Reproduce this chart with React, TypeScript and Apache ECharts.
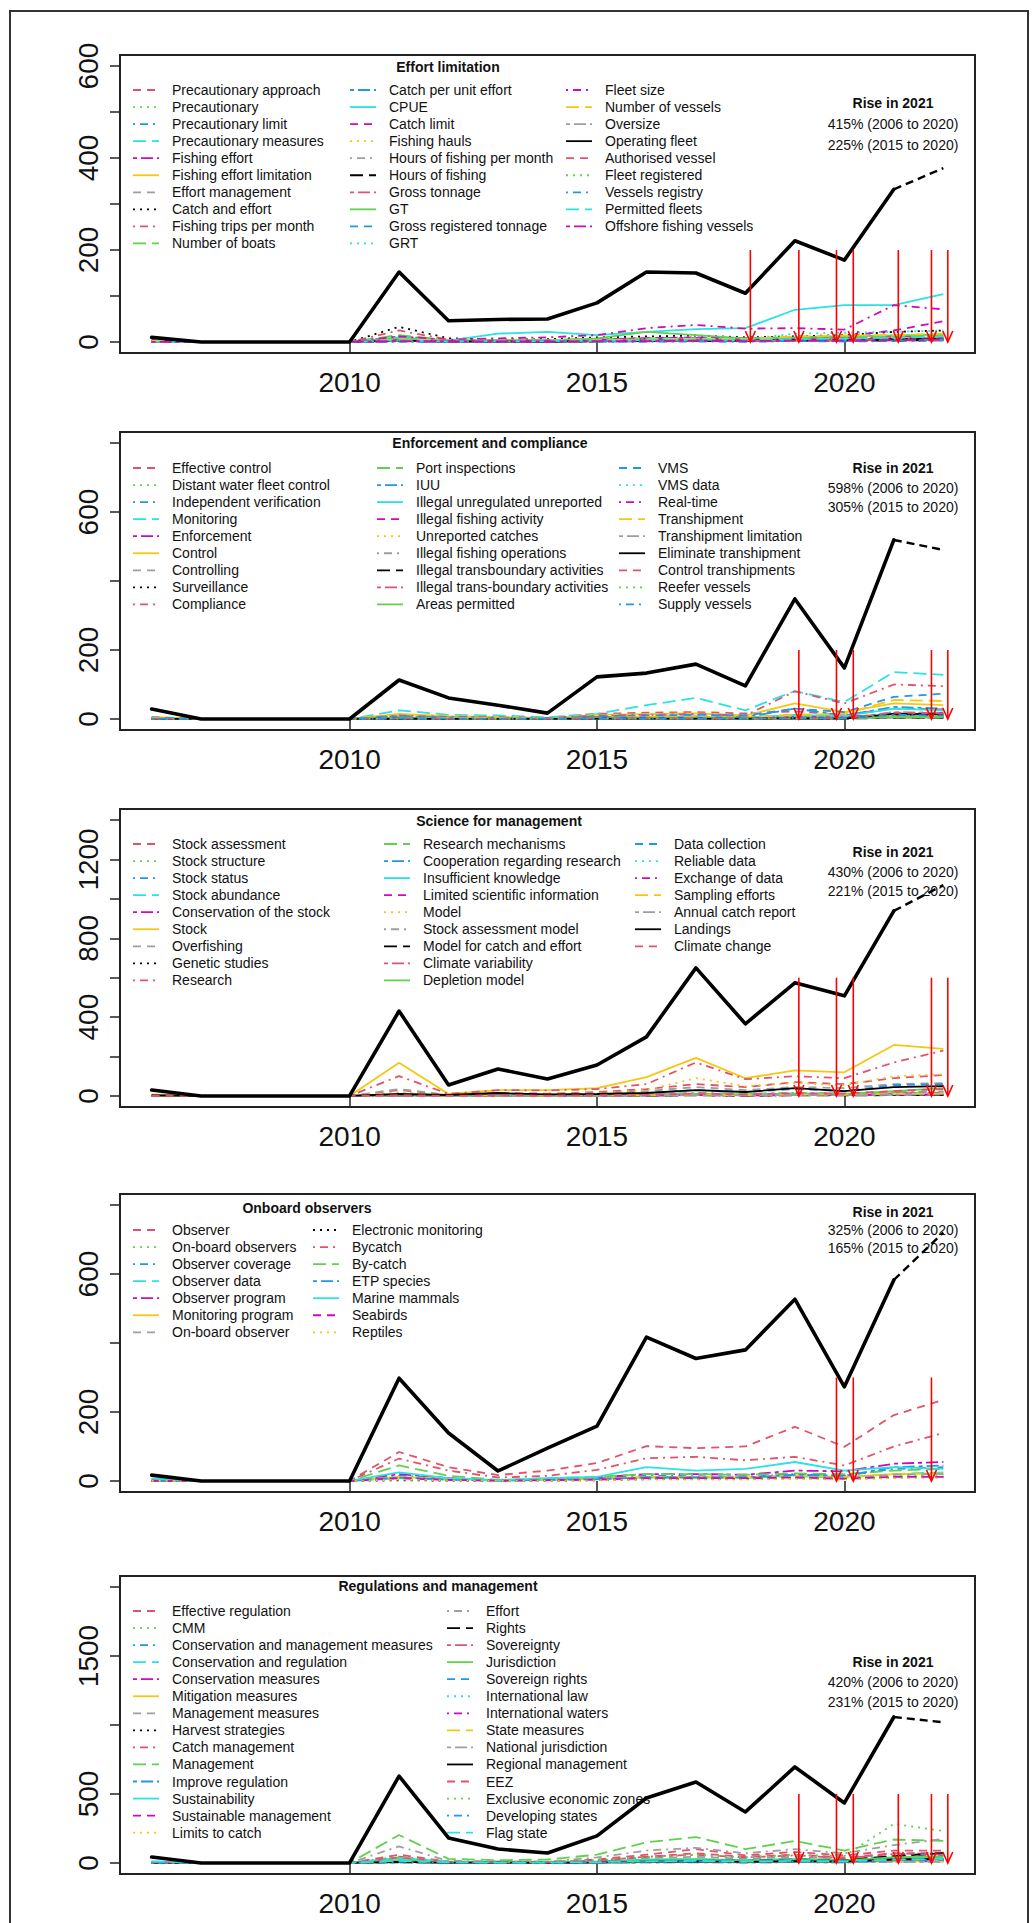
import React, { useEffect, useRef } from 'react';
import * as echarts from 'echarts';

// ---------------- DATA ----------------
const years = [2006, 2007, 2008, 2009, 2010, 2011, 2012, 2013, 2014, 2015, 2016, 2017, 2018, 2019, 2020, 2021, 2022];
const xTickYears = [2010, 2015, 2020];

// R palette (col 2..8,1 cycling) and lty (2..6,1 cycling)
const rPalette = ['#000000', '#DF536B', '#61D04F', '#2297E6', '#28E2E5', '#CD0BBC', '#F5C710', '#9E9E9E'];
const rDash: (number[] | null)[] = [null, [8, 6], [2, 5], [2, 5, 8, 5], [13, 6], [4, 4, 12, 4]];

// Panel 1: Effort limitation
const effortTitle = 'Effort limitation';
const effortNames = [
  'Precautionary approach', 'Precautionary', 'Precautionary limit', 'Precautionary measures', 'Fishing effort',
  'Fishing effort limitation', 'Effort management', 'Catch and effort', 'Fishing trips per month', 'Number of boats',
  'Catch per unit effort', 'CPUE', 'Catch limit', 'Fishing hauls', 'Hours of fishing per month',
  'Hours of fishing', 'Gross tonnage', 'GT', 'Gross registered tonnage', 'GRT',
  'Fleet size', 'Number of vessels', 'Oversize', 'Operating fleet', 'Authorised vessel',
  'Fleet registered', 'Vessels registry', 'Permitted fleets', 'Offshore fishing vessels',
];
const effortValues = [
  [0, 0, 0, 0, 0, 4, 1, 1, 2, 2, 3, 4, 3, 4, 5, 6, 8],
  [0, 0, 0, 0, 0, 6, 2, 1, 1, 2, 3, 3, 2, 3, 4, 5, 6],
  [0, 0, 0, 0, 0, 1, 0, 0, 0, 1, 1, 1, 1, 2, 1, 2, 3],
  [0, 0, 0, 0, 0, 5, 2, 2, 3, 3, 4, 5, 4, 5, 6, 7, 9],
  [4, 0, 0, 0, 0, 12, 4, 3, 4, 6, 8, 9, 7, 8, 9, 12, 14],
  [0, 0, 0, 0, 0, 3, 1, 1, 1, 2, 2, 3, 2, 3, 3, 4, 5],
  [0, 0, 0, 0, 0, 4, 1, 2, 2, 3, 4, 5, 4, 5, 6, 8, 10],
  [3, 0, 0, 0, 0, 33, 8, 5, 6, 10, 12, 14, 10, 12, 15, 22, 25],
  [0, 0, 0, 0, 0, 25, 5, 3, 3, 4, 6, 7, 5, 6, 7, 9, 10],
  [0, 0, 0, 0, 0, 15, 4, 3, 4, 6, 8, 8, 6, 8, 9, 12, 14],
  [0, 0, 0, 0, 0, 2, 1, 1, 1, 2, 2, 3, 2, 3, 3, 4, 4],
  [0, 0, 0, 0, 0, 10, 3, 18, 22, 15, 22, 28, 30, 70, 80, 80, 104],
  [0, 0, 0, 0, 0, 5, 2, 3, 4, 5, 8, 10, 8, 10, 12, 25, 45],
  [0, 0, 0, 0, 0, 3, 1, 1, 2, 2, 3, 4, 3, 5, 6, 8, 10],
  [0, 0, 0, 0, 0, 2, 1, 1, 1, 2, 2, 2, 2, 3, 3, 4, 5],
  [0, 0, 0, 0, 0, 2, 1, 1, 1, 1, 2, 2, 2, 2, 3, 3, 4],
  [0, 0, 0, 0, 0, 4, 2, 2, 2, 3, 4, 5, 4, 5, 6, 7, 8],
  [0, 0, 0, 0, 0, 8, 3, 4, 4, 8, 22, 15, 8, 10, 12, 14, 16],
  [0, 0, 0, 0, 0, 3, 1, 1, 2, 2, 3, 3, 3, 4, 4, 5, 6],
  [0, 0, 0, 0, 0, 5, 2, 2, 3, 4, 6, 8, 6, 18, 20, 22, 25],
  [0, 0, 0, 0, 0, 12, 5, 8, 10, 15, 30, 37, 29, 30, 27, 80, 71],
  [3, 0, 0, 0, 0, 6, 3, 3, 3, 4, 6, 7, 6, 12, 14, 15, 18],
  [0, 0, 0, 0, 0, 1, 0, 1, 1, 1, 1, 2, 1, 2, 2, 3, 3],
  [0, 0, 0, 0, 0, 3, 1, 1, 1, 2, 3, 3, 3, 4, 4, 6, 7],
  [0, 0, 0, 0, 0, 2, 1, 1, 1, 2, 2, 3, 2, 3, 4, 5, 6],
  [0, 0, 0, 0, 0, 3, 1, 1, 2, 2, 3, 4, 3, 4, 5, 8, 12],
  [0, 0, 0, 0, 0, 1, 0, 0, 1, 1, 1, 2, 1, 2, 2, 3, 4],
  [0, 0, 0, 0, 0, 4, 1, 2, 2, 3, 4, 5, 4, 6, 7, 9, 12],
  [0, 0, 0, 0, 0, 2, 1, 1, 1, 2, 2, 3, 2, 3, 3, 4, 5],
];
const effortTotal = [10, 0, 0, 0, 0, 152, 46, 49, 50, 85, 152, 150, 106, 220, 178, 332, 378];
const effortArrows = [2018.1, 2019.08, 2019.84, 2020.18, 2021.09, 2021.76, 2022.09];
const effortArrowTop = 200;
const effortRise = ['Rise in 2021', '415% (2006 to 2020)', '225% (2015 to 2020)'];
const effortYMax = 600;
const effortYTicks = [0, 100, 200, 300, 400, 500, 600];
const effortYLabels = [0, 200, 400, 600];

// Panel 2: Enforcement and compliance
const enforceTitle = 'Enforcement and compliance';
const enforceNames = [
  'Effective control', 'Distant water fleet control', 'Independent verification', 'Monitoring', 'Enforcement',
  'Control', 'Controlling', 'Surveillance', 'Compliance',
  'Port inspections', 'IUU', 'Illegal unregulated unreported', 'Illegal fishing activity', 'Unreported catches',
  'Illegal fishing operations', 'Illegal transboundary activities', 'Illegal trans-boundary activities', 'Areas permitted',
  'VMS', 'VMS data', 'Real-time', 'Transhipment', 'Transhipment limitation',
  'Eliminate transhipment', 'Control transhipments', 'Reefer vessels', 'Supply vessels',
];
const enforceValues = [
  [2, 0, 0, 0, 0, 8, 5, 4, 3, 15, 18, 20, 16, 22, 12, 30, 28],
  [0, 0, 0, 0, 0, 3, 2, 1, 1, 2, 3, 3, 2, 4, 3, 6, 5],
  [0, 0, 0, 0, 0, 4, 2, 2, 1, 3, 4, 4, 3, 6, 4, 8, 7],
  [4, 0, 0, 0, 0, 25, 12, 10, 5, 15, 40, 61, 25, 81, 49, 136, 128],
  [2, 0, 0, 0, 0, 6, 4, 3, 2, 5, 6, 7, 5, 10, 6, 14, 16],
  [5, 0, 0, 0, 0, 15, 8, 6, 2, 12, 14, 16, 10, 45, 20, 45, 40],
  [0, 0, 0, 0, 0, 2, 1, 1, 0, 2, 2, 2, 2, 4, 3, 5, 4],
  [2, 0, 0, 0, 0, 5, 3, 2, 1, 5, 5, 6, 4, 9, 5, 12, 10],
  [3, 0, 0, 0, 0, 10, 6, 5, 3, 10, 12, 14, 10, 80, 45, 100, 95],
  [0, 0, 0, 0, 0, 3, 2, 1, 1, 3, 3, 4, 3, 6, 4, 8, 8],
  [0, 0, 0, 0, 0, 8, 4, 3, 1, 5, 6, 7, 5, 30, 10, 35, 30],
  [0, 0, 0, 0, 0, 4, 3, 2, 1, 4, 5, 5, 4, 12, 8, 30, 25],
  [0, 0, 0, 0, 0, 3, 2, 1, 1, 3, 3, 3, 2, 6, 4, 12, 10],
  [0, 0, 0, 0, 0, 5, 3, 2, 1, 3, 4, 4, 3, 8, 5, 15, 12],
  [0, 0, 0, 0, 0, 2, 1, 1, 0, 2, 2, 2, 2, 4, 3, 6, 5],
  [0, 0, 0, 0, 0, 1, 1, 0, 0, 1, 1, 1, 1, 2, 1, 3, 3],
  [0, 0, 0, 0, 0, 2, 1, 1, 0, 2, 2, 2, 1, 3, 2, 4, 4],
  [0, 0, 0, 0, 0, 2, 1, 1, 0, 2, 2, 2, 2, 3, 2, 5, 5],
  [5, 0, 0, 0, 0, 8, 4, 3, 1, 8, 10, 12, 10, 30, 20, 64, 73],
  [0, 0, 0, 0, 0, 3, 2, 1, 1, 3, 3, 3, 2, 6, 4, 10, 8],
  [0, 0, 0, 0, 0, 2, 1, 1, 0, 2, 2, 3, 2, 4, 3, 15, 18],
  [2, 0, 0, 0, 0, 3, 2, 2, 1, 3, 5, 5, 4, 12, 15, 55, 52],
  [0, 0, 0, 0, 0, 1, 1, 1, 0, 1, 1, 1, 1, 2, 1, 20, 18],
  [0, 0, 0, 0, 0, 1, 0, 0, 0, 1, 1, 1, 1, 2, 1, 15, 14],
  [0, 0, 0, 0, 0, 1, 0, 0, 0, 1, 1, 1, 1, 2, 2, 18, 16],
  [0, 0, 0, 0, 0, 1, 0, 0, 0, 1, 1, 1, 1, 2, 1, 10, 9],
  [0, 0, 0, 0, 0, 1, 1, 0, 0, 1, 1, 1, 1, 3, 2, 12, 10],
];
const enforceTotal = [29, 0, 0, 0, 0, 113, 61, 40, 17, 122, 133, 159, 96, 348, 148, 519, 490];
const enforceArrows = [2019.08, 2019.84, 2020.18, 2021.76, 2022.09];
const enforceArrowTop = 200;
const enforceRise = ['Rise in 2021', '598% (2006 to 2020)', '305% (2015 to 2020)'];
const enforceYMax = 800;
const enforceYTicks = [0, 200, 400, 600, 800];
const enforceYLabels = [0, 200, 600];

// Panel 3: Science for management
const scienceTitle = 'Science for management';
const scienceNames = [
  'Stock assessment', 'Stock structure', 'Stock status', 'Stock abundance', 'Conservation of the stock',
  'Stock', 'Overfishing', 'Genetic studies', 'Research',
  'Research mechanisms', 'Cooperation regarding research', 'Insufficient knowledge', 'Limited scientific information', 'Model',
  'Stock assessment model', 'Model for catch and effort', 'Climate variability', 'Depletion model',
  'Data collection', 'Reliable data', 'Exchange of data', 'Sampling efforts', 'Annual catch report',
  'Landings', 'Climate change',
];
const scienceValues = [
  [2, 0, 0, 0, 0, 30, 5, 15, 12, 20, 35, 60, 45, 70, 60, 90, 106],
  [0, 0, 0, 0, 0, 3, 1, 2, 2, 3, 4, 6, 4, 6, 5, 8, 9],
  [0, 0, 0, 0, 0, 8, 2, 4, 3, 5, 8, 14, 10, 15, 12, 20, 22],
  [0, 0, 0, 0, 0, 5, 1, 3, 2, 4, 6, 10, 7, 12, 10, 15, 18],
  [0, 0, 0, 0, 0, 4, 1, 2, 2, 3, 5, 8, 6, 9, 8, 12, 14],
  [8, 0, 0, 0, 0, 168, 10, 30, 30, 40, 96, 193, 90, 130, 120, 259, 239],
  [3, 0, 0, 0, 0, 35, 5, 10, 8, 15, 25, 45, 30, 45, 40, 60, 65],
  [0, 0, 0, 0, 0, 2, 1, 1, 1, 2, 3, 4, 3, 4, 4, 6, 6],
  [5, 0, 0, 0, 0, 101, 10, 30, 28, 35, 60, 170, 85, 100, 90, 170, 230],
  [0, 0, 0, 0, 0, 3, 1, 2, 1, 2, 4, 6, 4, 6, 5, 8, 9],
  [0, 0, 0, 0, 0, 4, 1, 2, 2, 3, 5, 8, 5, 8, 6, 10, 12],
  [0, 0, 0, 0, 0, 3, 1, 2, 1, 2, 3, 5, 4, 5, 5, 7, 8],
  [0, 0, 0, 0, 0, 2, 1, 1, 1, 2, 3, 4, 3, 4, 4, 6, 6],
  [2, 0, 0, 0, 0, 20, 5, 10, 10, 15, 30, 90, 50, 65, 55, 100, 110],
  [0, 0, 0, 0, 0, 6, 2, 4, 3, 5, 8, 15, 10, 14, 12, 20, 22],
  [0, 0, 0, 0, 0, 2, 1, 1, 1, 1, 2, 3, 2, 3, 3, 4, 5],
  [0, 0, 0, 0, 0, 3, 1, 2, 1, 3, 4, 6, 4, 7, 6, 12, 14],
  [0, 0, 0, 0, 0, 4, 1, 2, 2, 3, 5, 10, 8, 12, 10, 25, 40],
  [2, 0, 0, 0, 0, 5, 2, 5, 5, 8, 15, 30, 20, 35, 25, 55, 60],
  [0, 0, 0, 0, 0, 3, 1, 2, 1, 2, 3, 6, 4, 6, 5, 8, 9],
  [0, 0, 0, 0, 0, 2, 1, 1, 1, 2, 3, 5, 3, 5, 4, 7, 8],
  [0, 0, 0, 0, 0, 3, 1, 2, 1, 2, 4, 6, 4, 7, 6, 10, 12],
  [0, 0, 0, 0, 0, 2, 1, 1, 1, 2, 3, 4, 3, 5, 4, 6, 7],
  [3, 0, 0, 0, 0, 10, 5, 15, 8, 10, 15, 30, 20, 40, 25, 45, 50],
  [0, 0, 0, 0, 0, 4, 1, 3, 2, 4, 6, 12, 8, 14, 12, 25, 35],
];
const scienceTotal = [30, 0, 0, 0, 0, 431, 56, 137, 86, 157, 300, 650, 366, 574, 508, 939, 1070];
const scienceArrows = [2019.08, 2019.84, 2020.18, 2021.76, 2022.09];
const scienceArrowTop = 600;
const scienceRise = ['Rise in 2021', '430% (2006 to 2020)', '221% (2015 to 2020)'];
const scienceYMax = 1400;
const scienceYTicks = [0, 200, 400, 600, 800, 1000, 1200, 1400];
const scienceYLabels = [0, 400, 800, 1200];

// Panel 4: Onboard observers
const observerTitle = 'Onboard observers';
const observerNames = [
  'Observer', 'On-board observers', 'Observer coverage', 'Observer data', 'Observer program',
  'Monitoring program', 'On-board observer',
  'Electronic monitoring', 'Bycatch', 'By-catch', 'ETP species', 'Marine mammals', 'Seabirds', 'Reptiles',
];
const observerValues = [
  [5, 0, 0, 0, 0, 84, 40, 17, 30, 52, 101, 95, 100, 157, 99, 191, 235],
  [0, 0, 0, 0, 0, 10, 5, 2, 4, 6, 10, 10, 9, 12, 8, 15, 18],
  [0, 0, 0, 0, 0, 15, 8, 2, 5, 8, 15, 14, 12, 20, 15, 35, 40],
  [0, 0, 0, 0, 0, 8, 4, 1, 3, 6, 10, 10, 9, 14, 10, 20, 25],
  [0, 0, 0, 0, 0, 20, 8, 2, 5, 10, 20, 20, 18, 30, 28, 50, 55],
  [0, 0, 0, 0, 0, 12, 6, 1, 4, 6, 12, 12, 10, 16, 12, 20, 22],
  [0, 0, 0, 0, 0, 10, 5, 1, 3, 5, 10, 10, 9, 12, 9, 18, 20],
  [0, 0, 0, 0, 0, 2, 1, 0, 1, 2, 5, 6, 6, 8, 6, 10, 12],
  [5, 0, 0, 0, 0, 65, 30, 10, 15, 32, 66, 70, 60, 70, 45, 100, 139],
  [0, 0, 0, 0, 0, 45, 15, 3, 8, 12, 20, 20, 18, 22, 20, 30, 35],
  [0, 0, 0, 0, 0, 10, 4, 1, 3, 5, 10, 10, 10, 18, 15, 40, 45],
  [7, 0, 0, 0, 0, 25, 8, 2, 8, 12, 40, 30, 35, 55, 30, 40, 35],
  [0, 0, 0, 0, 0, 8, 3, 1, 2, 4, 8, 8, 8, 10, 6, 12, 12],
  [0, 0, 0, 0, 0, 4, 2, 0, 1, 2, 4, 4, 4, 6, 4, 8, 8],
];
const observerTotal = [17, 0, 0, 0, 0, 298, 139, 29, 95, 159, 417, 355, 380, 527, 273, 583, 720];
const observerArrows = [2019.84, 2020.18, 2021.76];
const observerArrowTop = 300;
const observerRise = ['Rise in 2021', '325% (2006 to 2020)', '165% (2015 to 2020)'];
const observerYMax = 800;
const observerYTicks = [0, 200, 400, 600, 800];
const observerYLabels = [0, 200, 600];

// Panel 5: Regulations and management
const regulationTitle = 'Regulations and management';
const regulationNames = [
  'Effective regulation', 'CMM', 'Conservation and management measures', 'Conservation and regulation',
  'Conservation measures', 'Mitigation measures', 'Management measures', 'Harvest strategies', 'Catch management',
  'Management', 'Improve regulation', 'Sustainability', 'Sustainable management', 'Limits to catch',
  'Effort', 'Rights', 'Sovereignty', 'Jurisdiction', 'Sovereign rights', 'International law', 'International waters',
  'State measures', 'National jurisdiction', 'Regional management', 'EEZ', 'Exclusive economic zones',
  'Developing states', 'Flag state',
];
const regulationValues = [
  [3, 0, 0, 0, 0, 60, 10, 8, 6, 25, 60, 100, 55, 80, 55, 90, 90],
  [0, 0, 0, 0, 0, 10, 3, 2, 1, 5, 10, 12, 8, 14, 10, 25, 25],
  [0, 0, 0, 0, 0, 20, 6, 4, 2, 8, 20, 25, 18, 30, 20, 50, 55],
  [0, 0, 0, 0, 0, 6, 2, 1, 1, 3, 6, 8, 5, 9, 6, 15, 15],
  [0, 0, 0, 0, 0, 15, 5, 3, 2, 6, 15, 18, 12, 20, 15, 35, 40],
  [0, 0, 0, 0, 0, 8, 3, 2, 1, 4, 8, 10, 7, 12, 8, 20, 20],
  [0, 0, 0, 0, 0, 40, 8, 6, 4, 15, 35, 45, 30, 45, 30, 70, 75],
  [0, 0, 0, 0, 0, 5, 2, 1, 1, 3, 6, 8, 6, 10, 8, 20, 25],
  [0, 0, 0, 0, 0, 45, 8, 6, 4, 18, 45, 60, 40, 55, 35, 65, 70],
  [8, 0, 0, 0, 0, 203, 30, 20, 25, 60, 150, 188, 101, 159, 90, 170, 160],
  [0, 0, 0, 0, 0, 4, 1, 1, 1, 2, 4, 5, 4, 6, 4, 10, 10],
  [10, 0, 0, 0, 0, 36, 10, 8, 6, 12, 25, 30, 20, 30, 20, 40, 45],
  [0, 0, 0, 0, 0, 8, 3, 2, 1, 4, 8, 10, 7, 12, 8, 18, 20],
  [0, 0, 0, 0, 0, 4, 1, 1, 0, 2, 4, 5, 3, 6, 4, 10, 10],
  [5, 0, 0, 0, 0, 120, 15, 12, 10, 40, 90, 110, 70, 100, 70, 130, 174],
  [0, 0, 0, 0, 0, 10, 5, 4, 3, 8, 15, 20, 15, 25, 20, 50, 72],
  [0, 0, 0, 0, 0, 15, 5, 4, 3, 8, 15, 20, 15, 20, 15, 30, 30],
  [0, 0, 0, 0, 0, 20, 5, 4, 3, 8, 18, 22, 15, 22, 18, 40, 45],
  [0, 0, 0, 0, 0, 5, 2, 1, 1, 3, 6, 8, 5, 8, 6, 15, 15],
  [0, 0, 0, 0, 0, 8, 3, 2, 1, 4, 8, 10, 7, 10, 8, 18, 18],
  [0, 0, 0, 0, 0, 6, 2, 1, 1, 3, 6, 8, 5, 8, 6, 12, 12],
  [0, 0, 0, 0, 0, 6, 2, 1, 1, 3, 6, 8, 5, 8, 6, 14, 14],
  [0, 0, 0, 0, 0, 5, 2, 1, 1, 3, 5, 6, 4, 6, 5, 10, 10],
  [0, 0, 0, 0, 0, 8, 3, 2, 1, 4, 10, 12, 8, 14, 10, 25, 30],
  [5, 0, 0, 0, 0, 40, 8, 6, 4, 15, 45, 70, 45, 60, 40, 70, 60],
  [0, 0, 0, 0, 0, 40, 10, 5, 10, 20, 40, 60, 40, 60, 50, 283, 232],
  [0, 0, 0, 0, 0, 8, 3, 2, 1, 4, 8, 10, 7, 10, 8, 20, 22],
  [12, 0, 0, 0, 0, 15, 5, 3, 2, 6, 12, 15, 10, 15, 12, 25, 30],
];
const regulationTotal = [43, 0, 0, 0, 0, 630, 181, 101, 72, 196, 471, 587, 370, 696, 435, 1058, 1020];
const regulationArrows = [2019.08, 2019.84, 2020.18, 2021.09, 2021.76, 2022.09];
const regulationArrowTop = 500;
const regulationRise = ['Rise in 2021', '420% (2006 to 2020)', '231% (2015 to 2020)'];
const regulationYMax = 2000;
const regulationYTicks = [0, 500, 1000, 1500, 2000];
const regulationYLabels = [0, 500, 1500];

// ---------------- LAYOUT (positions only) ----------------
const FONT = '"Liberation Sans", Arial, Helvetica, sans-serif';
const GRID_LEFT = 120;
const GRID_WIDTH = 855;
const GRID_HEIGHT = 298;
const ROW = 17.05;
const RISE_X = 893;

const layouts = [
  { top: 55, titleX: 448, titleY: 67, rowTop: 90, iconX: [133, 350, 566], cols: [10, 10, 9], riseY: [103, 124, 145] },
  { top: 432, titleX: 490, titleY: 443, rowTop: 468, iconX: [133, 377, 619], cols: [9, 9, 9], riseY: [468, 488, 507] },
  { top: 809, titleX: 499, titleY: 821, rowTop: 844, iconX: [133, 384, 635], cols: [9, 9, 7], riseY: [852, 872, 891] },
  { top: 1194, titleX: 307, titleY: 1208, rowTop: 1230, iconX: [133, 313], cols: [7, 7], riseY: [1212, 1230, 1248] },
  { top: 1576, titleX: 438, titleY: 1586, rowTop: 1611, iconX: [133, 447], cols: [14, 14], riseY: [1662, 1682, 1702] },
];

const panels = [
  { title: effortTitle, names: effortNames, values: effortValues, total: effortTotal, arrows: effortArrows, arrowTop: effortArrowTop, rise: effortRise, yMax: effortYMax, yTicks: effortYTicks, yLabels: effortYLabels },
  { title: enforceTitle, names: enforceNames, values: enforceValues, total: enforceTotal, arrows: enforceArrows, arrowTop: enforceArrowTop, rise: enforceRise, yMax: enforceYMax, yTicks: enforceYTicks, yLabels: enforceYLabels },
  { title: scienceTitle, names: scienceNames, values: scienceValues, total: scienceTotal, arrows: scienceArrows, arrowTop: scienceArrowTop, rise: scienceRise, yMax: scienceYMax, yTicks: scienceYTicks, yLabels: scienceYLabels },
  { title: observerTitle, names: observerNames, values: observerValues, total: observerTotal, arrows: observerArrows, arrowTop: observerArrowTop, rise: observerRise, yMax: observerYMax, yTicks: observerYTicks, yLabels: observerYLabels },
  { title: regulationTitle, names: regulationNames, values: regulationValues, total: regulationTotal, arrows: regulationArrows, arrowTop: regulationArrowTop, rise: regulationRise, yMax: regulationYMax, yTicks: regulationYTicks, yLabels: regulationYLabels },
];

function styleFor(i: number) {
  return { color: rPalette[(i + 1) % 8], dash: rDash[(i + 1) % 6] };
}

function buildOption() {
  const grid: any[] = [];
  const xAxis: any[] = [];
  const yAxis: any[] = [];
  const series: any[] = [];
  const graphic: any[] = [];
  const xMin = years[0] - 0.04 * (years[years.length - 1] - years[0]);
  const xMax = years[years.length - 1] + 0.04 * (years[years.length - 1] - years[0]);

  graphic.push({
    type: 'rect', silent: true, z: 100,
    shape: { x: 10, y: 11, width: 1018, height: 1950 },
    style: { fill: 'none', stroke: '#333', lineWidth: 2 },
  });

  panels.forEach((P, p) => {
    const L = layouts[p];
    grid.push({
      left: GRID_LEFT, top: L.top, width: GRID_WIDTH, height: GRID_HEIGHT,
      show: true, borderColor: '#222', borderWidth: 2, backgroundColor: 'transparent',
      containLabel: false, outerBoundsMode: 'none',
    });
    xAxis.push({
      gridIndex: p, type: 'value', min: xMin, max: xMax,
      axisLine: { show: false }, splitLine: { show: false },
      axisTick: { show: true, customValues: xTickYears, length: 10, lineStyle: { color: '#222', width: 1.5 } },
      axisLabel: {
        show: true, customValues: xTickYears, fontSize: 28, margin: 15, color: '#111', fontFamily: FONT,
        formatter: (v: number) => String(Math.round(v)),
      },
    });
    yAxis.push({
      gridIndex: p, type: 'value', min: -0.04 * P.yMax, max: 1.04 * P.yMax,
      axisLine: { show: false }, splitLine: { show: false },
      axisTick: { show: true, customValues: P.yTicks, length: 10, lineStyle: { color: '#222', width: 1.5 } },
      axisLabel: {
        show: true, customValues: P.yLabels, fontSize: 28, margin: 18, rotate: 90, color: '#111', fontFamily: FONT,
        formatter: (v: number) => String(Math.round(v)),
      },
    });

    P.values.forEach((vals, i) => {
      const st = styleFor(i);
      series.push({
        type: 'line', name: P.names[i], xAxisIndex: p, yAxisIndex: p,
        data: years.map((y, k) => [y, vals[k]]),
        symbol: 'none', silent: true, z: 2,
        lineStyle: { color: st.color, width: 1.8, type: st.dash ? st.dash : 'solid' },
      });
    });

    const n = years.length;
    series.push({
      type: 'line', name: P.title + ' total', xAxisIndex: p, yAxisIndex: p,
      data: years.map((y, k) => [y, k < n - 1 ? P.total[k] : null]),
      symbol: 'none', silent: true, z: 3, connectNulls: false,
      lineStyle: { color: '#000', width: 3.6, cap: 'round', join: 'round' },
    });
    series.push({
      type: 'line', name: P.title + ' total (2022)', xAxisIndex: p, yAxisIndex: p,
      data: years.map((y, k) => [y, k >= n - 2 ? P.total[k] : null]),
      symbol: 'none', silent: true, z: 3,
      lineStyle: { color: '#000', width: 2.4, type: [8, 5] },
    });
    series.push({
      type: 'custom', name: P.title + ' events', xAxisIndex: p, yAxisIndex: p,
      data: P.arrows.map((x) => [x, P.arrowTop]), silent: true, z: 4, clip: false,
      renderItem: (_params: any, api: any) => {
        const a = api.coord([api.value(0), api.value(1)]);
        const b = api.coord([api.value(0), 0]);
        const s = { stroke: '#FF0000', lineWidth: 1.6, fill: 'none' };
        return {
          type: 'group',
          children: [
            { type: 'line', shape: { x1: a[0], y1: a[1], x2: b[0], y2: b[1] }, style: s },
            { type: 'polyline', shape: { points: [[b[0] - 5, b[1] - 11], [b[0], b[1]], [b[0] + 5, b[1] - 11]] }, style: s },
          ],
        };
      },
    });

    // legend title
    graphic.push({
      type: 'text', x: L.titleX, y: L.titleY, silent: true,
      style: { text: P.title, fontSize: 14, fontWeight: 'bold', fontFamily: FONT, fill: '#111', align: 'center', verticalAlign: 'middle' },
    });
    // rise annotation
    P.rise.forEach((t, k) => {
      graphic.push({
        type: 'text', x: RISE_X, y: L.riseY[k], silent: true,
        style: { text: t, fontSize: 14, fontWeight: k === 0 ? 'bold' : 'normal', fontFamily: FONT, fill: '#111', align: 'center', verticalAlign: 'middle' },
      });
    });
    // legend entries
    let idx = 0;
    L.cols.forEach((count, c) => {
      for (let r = 0; r < count; r++, idx++) {
        if (idx >= P.names.length) break;
        const y = L.rowTop + r * ROW;
        const st = styleFor(idx);
        const lineStyle: any = { stroke: st.color, lineWidth: 1.8 };
        if (st.dash) lineStyle.lineDash = st.dash;
        graphic.push({ type: 'line', silent: true, shape: { x1: L.iconX[c], y1: y, x2: L.iconX[c] + 26, y2: y }, style: lineStyle });
        graphic.push({
          type: 'text', x: L.iconX[c] + 39, y, silent: true,
          style: { text: P.names[idx], fontSize: 14, fontFamily: FONT, fill: '#111', align: 'left', verticalAlign: 'middle' },
        });
      }
    });
  });

  return {
    animation: false,
    backgroundColor: '#ffffff',
    grid, xAxis, yAxis, series, graphic,
  };
}

export default function App() {
  const ref = useRef<HTMLDivElement>(null);
  useEffect(() => {
    if (!ref.current) return;
    const chart = echarts.init(ref.current, undefined, { renderer: 'svg' });
    chart.setOption(buildOption() as any);
    return () => chart.dispose();
  }, []);
  return (
    <div
      ref={ref}
      style={{ position: 'absolute', left: 0, top: 0, width: 1033, height: 1923, background: '#fff' }}
    />
  );
}
